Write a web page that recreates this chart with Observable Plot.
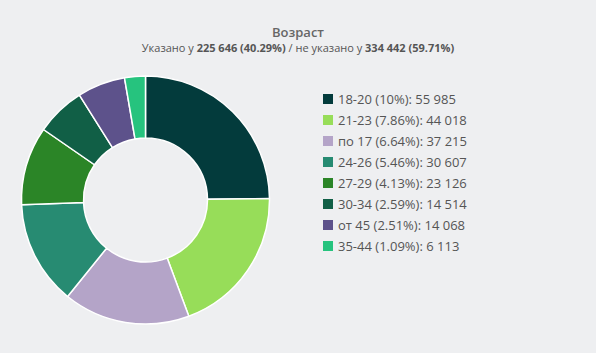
<!DOCTYPE html>
<html><head><meta charset="utf-8">
<script src="https://cdn.jsdelivr.net/npm/d3@7"></script>
<script src="https://cdn.jsdelivr.net/npm/@observablehq/plot@0.6"></script>
<style>
html,body{margin:0;padding:0;background:#eeeff1;}
body{font-family:"Open Sans",sans-serif;width:596px;height:353px;overflow:hidden;position:relative;}
#title{position:absolute;top:23px;left:0;width:596px;text-align:center;font-size:13px;font-weight:600;color:#666;line-height:18px;}
#sub{position:absolute;top:40px;left:0;width:596px;text-align:center;font-size:11px;color:#555;line-height:16px;}
#sub b{color:#555;}
#chart{position:absolute;left:0;top:0;}
#legend{position:absolute;left:323px;top:88.5px;}
.item{height:21px;display:flex;align-items:center;font-size:13px;color:#555;white-space:nowrap;}
.sw{width:10px;height:10px;margin-right:5px;flex:none;}
</style></head>
<body>
<div id="chart"></div>
<div id="title">Возраст</div>
<div id="sub"></div>
<div id="legend"></div>
<script>
const categories = ["18-20", "21-23", "по 17", "24-26", "27-29", "30-34", "от 45", "35-44"];
const values = [55985, 44018, 37215, 30607, 23126, 14514, 14068, 6113];
const percents = ["10%", "7.86%", "6.64%", "5.46%", "4.13%", "2.59%", "2.51%", "1.09%"];
const colors = ["#033b3c", "#97dd59", "#b4a4c8", "#278b72", "#2b8527", "#115f46", "#5d528b", "#26c37e"];
const specified = "225 646", specifiedPct = "40.29%", unspecified = "334 442", unspecifiedPct = "59.71%";

const data = categories.map((c, i) => ({category: c, value: values[i], pct: percents[i]}));
const color = Plot.scale({color: {type: "ordinal", domain: categories, range: colors}});
const fmt = v => d3.format(",")(v).replace(/,/g, " ");

document.getElementById("sub").innerHTML =
  `Указано у <b>${specified} (${specifiedPct})</b> / не указано у <b>${unspecified} (${unspecifiedPct})</b>`;

const legend = document.getElementById("legend");
data.forEach(d => {
  const row = document.createElement("div");
  row.className = "item";
  row.innerHTML = `<span class="sw" style="background:${color.apply(d.category)}"></span><span>${d.category} (${d.pct}): ${fmt(d.value)}</span>`;
  legend.appendChild(row);
});

const donut = (index, scales, vals, dims) => {
  const cx = 145.5, cy = 200, R = 124, r = 62;
  const pie = d3.pie().sort(null).value(d => d.value)(data);
  const arc = d3.arc().innerRadius(r).outerRadius(R);
  const g = d3.create("svg:g").attr("transform", `translate(${cx},${cy})`);
  g.selectAll("path").data(pie).join("path")
    .attr("d", arc)
    .attr("fill", d => color.apply(d.data.category))
    .attr("stroke", "#ffffff")
    .attr("stroke-width", 1.5)
    .attr("stroke-linejoin", "round");
  return g.node();
};

const chart = Plot.plot({
  width: 596, height: 353, margin: 0,
  style: {background: "transparent"},
  x: {axis: null, domain: [0, 1]}, y: {axis: null, domain: [0, 1]},
  marks: [donut]
});
document.getElementById("chart").appendChild(chart);
</script>
</body></html>
